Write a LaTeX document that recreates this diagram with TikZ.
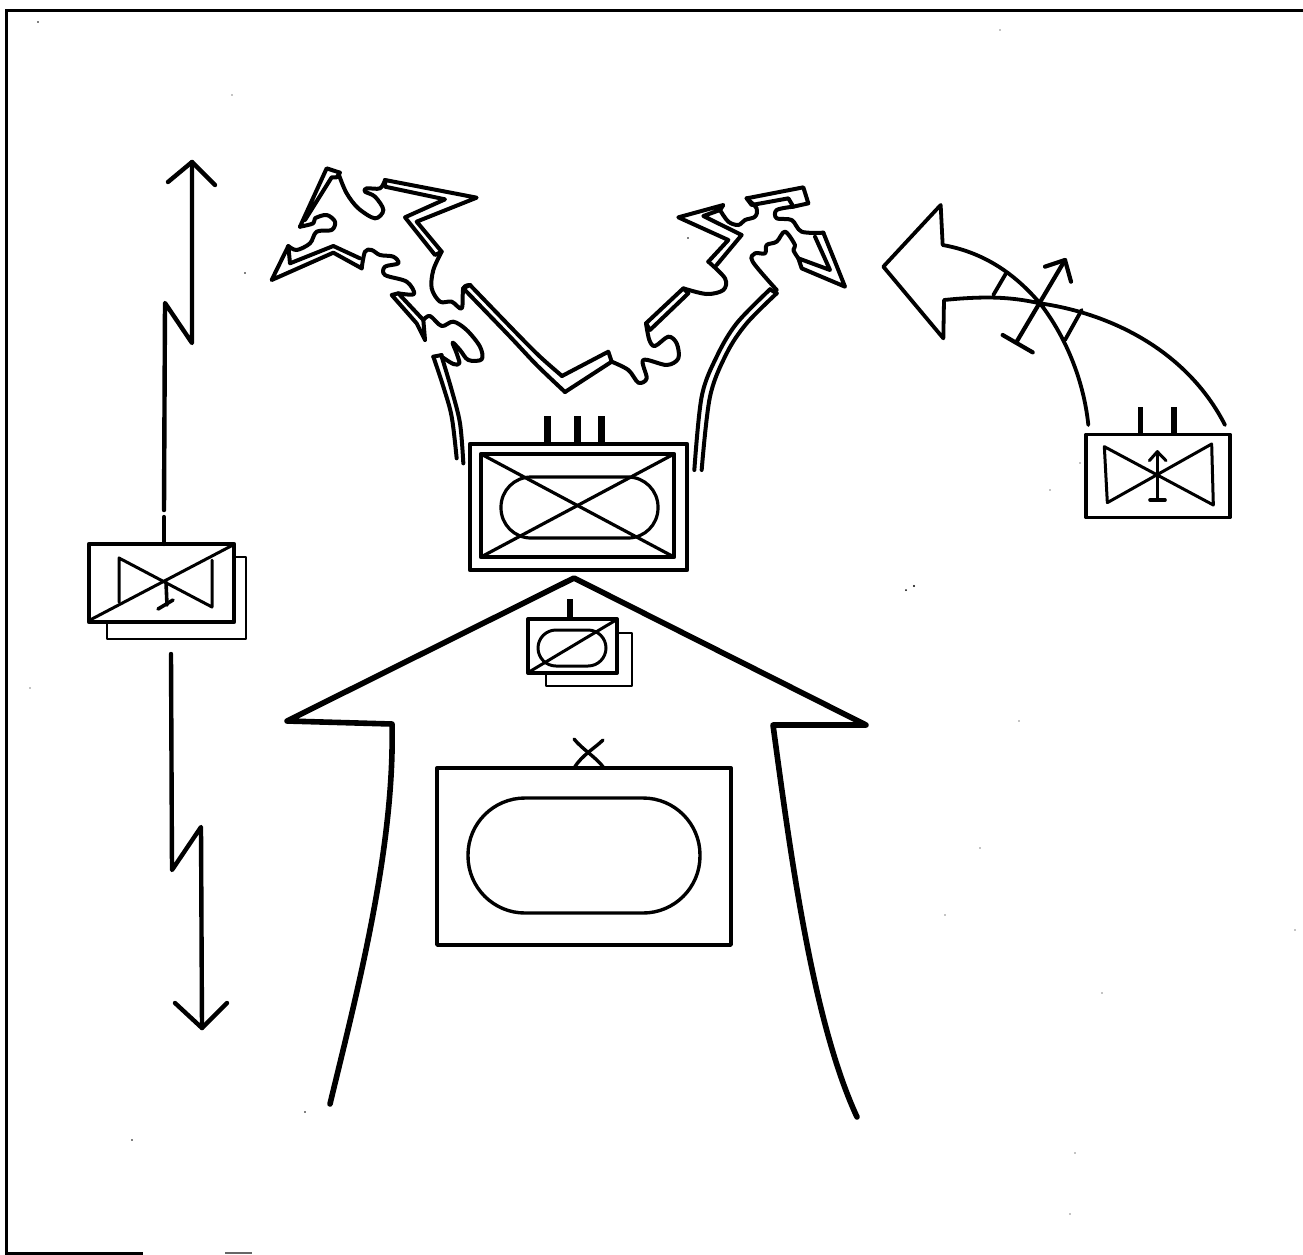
\documentclass[tikz,border=0pt]{standalone}
\tikzset{
  ink/.style={draw=black,line join=round,line cap=round},
  back box/.style={ink,line width=2.6pt},
  thin box/.style={ink,line width=3.2pt},
  heavy box/.style={ink,line width=4.6pt},
  front/.style={ink,line width=4pt},
  bolt/.style={ink,line width=4.4pt},
  road/.style={ink,line width=5.6pt},
  fine/.style={ink,line width=3pt},
  stub/.style={ink,line width=7pt,line cap=butt},
  speck/.style={fill=black,draw=none},
  zoomA/.style={x=0.33333pt,y=-0.33333pt,shift={(260pt,-160pt)}},
  zoomB/.style={x=0.33333pt,y=-0.33333pt,shift={(560pt,-190pt)}},
  zoomC/.style={x=0.33333pt,y=-0.33333pt,shift={(660pt,-190pt)}},
  zoomD/.style={x=0.33333pt,y=-0.33333pt,shift={(870pt,-190pt)}}
}
\newcommand{\curvy}[2][front]{\draw[#1] plot[smooth,tension=0.55] coordinates {#2};}
\begin{document}
\begin{tikzpicture}[x=1pt,y=-1pt]
\useasboundingbox (0,0) rectangle (1303,1254);
% frame
\draw[line width=3pt,black] (1303,10.5) -- (6,10.5) -- (6,1253) -- (143,1253);
\draw[line width=2pt,black!60] (225,1253) -- (252,1253);
% left bolt
\draw[bolt] (168,182) -- (192,162) -- (215,185);
\draw[bolt] (192,162) -- (192,343) -- (165,303) -- (164,510);
\draw[bolt] (164,517) -- (164,544);
\draw[bolt] (171,654) -- (172,870) -- (201,827) -- (202,1028);
\draw[bolt] (175,1003) -- (202,1028) -- (227,1003);
% left box
\draw[back box] (107,622) -- (107,639) -- (246,639) -- (246,557) -- (234,557);
\draw[heavy box] (89,544) rectangle (234,622);
\draw[fine] (90,620) -- (233,545);
\draw[fine] (212,560) -- (212,607) -- (119,558) -- (119,602);
\draw[ink,line width=3.6pt] (166,582) -- (167,605);
\draw[ink,line width=3.6pt] (158,609) -- (173,600);
% front, left half
\begin{scope}[zoomA]
\curvy{(590,895)(575,770)(550,680)(520,590)}
\draw[front] (520,590) -- (545,585);
\curvy{(610,910)(600,790)(575,690)(545,590)}
\curvy{(545,590)(580,612)(598,610)(590,580)(578,548)(600,570)(625,600)(665,598)(660,560)(620,510)(580,485)(545,498)(510,468)(490,480)}
\draw[front] (495,540) -- (470,490) -- (395,405) -- (415,400) -- (490,480) -- (495,540);
\curvy{(415,400)(462,402)(440,365)(375,345)(375,320)(415,310)(400,290)(360,285)(335,270)(315,275)(305,325)}
\draw[front] (305,325) -- (220,278) -- (35,360) -- (85,258) -- (90,310) -- (220,258) -- (300,295);
\curvy{(85,258)(110,270)(150,250)(170,215)(215,210)(225,185)(200,165)(165,175)(160,190)(120,200)}
\draw[front] (120,200) -- (200,25) -- (240,38) -- (230,52) -- (215,52) -- (135,180);
\curvy{(238,48)(260,100)(295,145)(345,175)(370,150)(345,110)(315,95)(320,85)(360,85)(375,60)}
\draw[front] (375,60) -- (375,80) -- (555,118) -- (435,172) -- (525,285) -- (545,275) -- (470,185) -- (650,113) -- cycle;
\curvy{(545,275)(520,330)(515,385)(540,425)(575,425)(605,445)(610,385)(630,375)}
\draw[front] (610,385) -- (630,375);
\curvy{(610,385)(750,530)(830,615)(915,696)}
\curvy{(630,375)(770,520)(840,590)(906,648)}
\end{scope}
% front, right half
\begin{scope}[zoomB]
\draw[front] (6,558) -- (145,485) -- (155,515) -- (15,606);
\curvy{(155,515)(205,540)(235,578)(260,565)(250,510)(320,525)(355,505)(350,460)(325,440)(285,468)(268,450)(258,400)}
\draw[front] (258,400) -- (370,295) -- (385,310) -- (270,420) -- (258,400);
\curvy{(370,295)(440,312)(490,300)(495,265)(445,215)}
\draw[front] (445,215) -- (505,150) -- (355,82) -- (490,45) -- (480,60) -- (430,78) -- (545,135) -- (470,225);
\curvy{(650,310)(560,400)(500,490)(450,620)(425,840)}
\curvy{(630,298)(530,400)(470,500)(425,620)(403,840)}
\draw[front] (630,298) -- (650,310);
\end{scope}
\begin{scope}[zoomC]
\curvy{(180,60)(205,95)(235,105)(255,90)(285,80)(290,55)(260,25)}
\draw[front] (260,25) -- (430,-8) -- (445,40) -- (400,50) -- (385,25) -- (275,45) -- (260,25);
\curvy{(400,50)(350,60)(350,85)(395,90)(425,125)(490,128)}
\draw[front] (490,128) -- (555,290) -- (425,235) -- (415,205) -- (510,240) -- (465,140);
\curvy{(415,205)(400,180)(405,165)(375,125)(350,155)(320,165)(315,190)(285,190)(278,215)(350,300)}
\end{scope}
% central unit
\draw[stub] (547,416) -- (547,444);
\draw[stub] (577,416) -- (577,444);
\draw[stub] (601,416) -- (601,444);
\draw[heavy box] (470,444) rectangle (687,570);
\draw[heavy box] (481,454) rectangle (674,557);
\draw[thin box,rounded corners=30pt] (501,477) rectangle (658,538);
\draw[thin box] (481,454) -- (674,557);
\draw[thin box] (481,557) -- (674,454);
% main axis arrow
\draw[road] (330,1104) .. controls (355,1000) and (395,850) .. (392,724) -- (287,721) -- (574,578) -- (866,725) -- (773,725) .. controls (790,850) and (812,1020) .. (857,1117);
% small unit
\draw[back box] (546,673) -- (546,686) -- (632,686) -- (632,633) -- (617,633);
\draw[heavy box,line width=4pt] (528,619) rectangle (617,673);
\draw[fine,rounded corners=18pt] (538,630) rectangle (606,666);
\draw[fine] (529,672) -- (616,620);
\draw[stub,line width=6pt] (570,599) -- (570,619);
% large rear unit
\draw[thin box,line width=3.4pt] (437,768) rectangle (731,945);
\draw[fine,line width=3.4pt,rounded corners=57pt] (468,798) rectangle (700,913);
\draw[fine,line width=3.4pt] (574,768) .. controls (582,755) and (595,748) .. (603,740);
\draw[fine,line width=3.4pt] (574,739) .. controls (583,750) and (596,757) .. (604,768);
% right manoeuvre arrow
\begin{scope}[zoomD]
\draw[ink,line width=3.8pt] (655,705) .. controls (640,560) and (580,430) .. (510,340) .. controls (450,270) and (360,190) .. (218,165) -- (212,45) -- (40,230) -- (220,445) -- (222,330) .. controls (370,315) and (440,325) .. (510,340) .. controls (720,370) and (950,480) .. (1065,705);
\draw[ink,line width=3.8pt] (370,315) -- (408,250);
\draw[ink,line width=3.8pt] (585,450) -- (635,360);
\draw[ink,line width=4.2pt] (440,455) -- (585,210);
\draw[ink,line width=4.2pt] (525,230) -- (585,210) -- (603,275);
\draw[ink,line width=4.2pt] (398,435) -- (488,487);
\draw[stub,line width=5.5pt] (812,652) -- (812,733);
\draw[stub,line width=5.5pt] (912,652) -- (912,733);
\draw[heavy box,line width=3.6pt] (648,733) rectangle (1080,982);
\draw[fine] (703,770) -- (1030,945) -- (1025,762) -- (712,938) -- cycle;
\draw[fine] (862,930) -- (862,785);
\draw[fine] (838,812) -- (862,785) -- (888,812);
\draw[ink,line width=3.6pt] (840,930) -- (885,930);
\end{scope}
% scan specks
\foreach \px/\py/\pr in {38/22/.8,232/95/.7,245/273/.8,688/238/.8,906/590/1,914/586/1.2,1080/463/.7,1050/490/.7,1019/721/.7,980/848/.7,945/915/.7,1102/993/.7,1295/930/.7,1075/1153/.7,1070/1214/.7,305/1112/.8,132/1140/.8,30/688/.7,1000/30/.6}
  \fill[speck] (\px,\py) circle[radius=\pr pt];
\end{tikzpicture}
\end{document}
